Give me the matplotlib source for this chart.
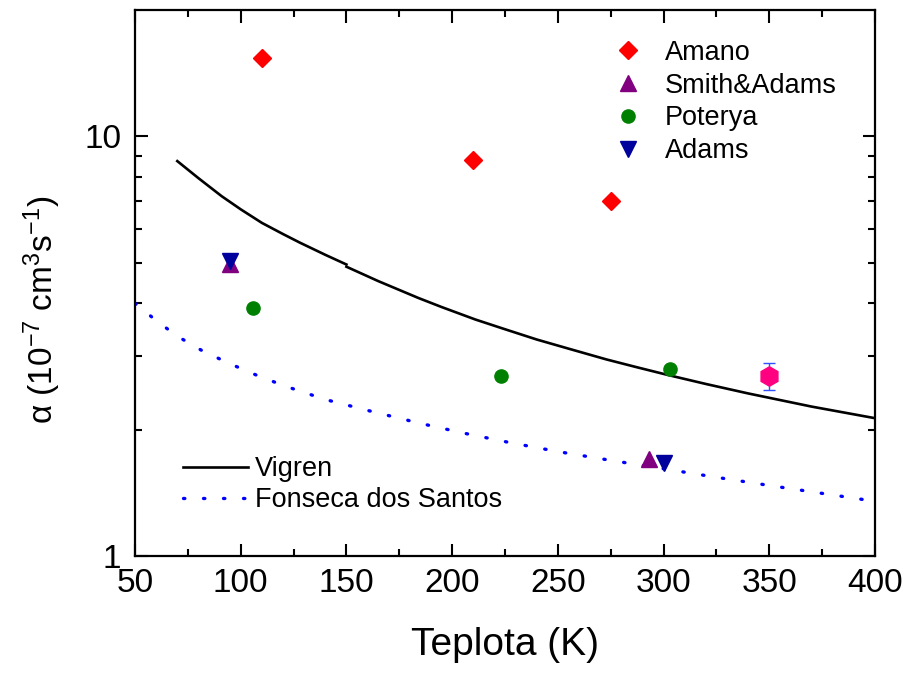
import numpy as np
import matplotlib
matplotlib.use('Agg')
import matplotlib.pyplot as plt
from matplotlib.ticker import MultipleLocator, FixedLocator, NullFormatter

plt.rcParams['font.family'] = ['Liberation Sans', 'DejaVu Sans']
plt.rcParams['mathtext.fontset'] = 'custom'
plt.rcParams['mathtext.rm'] = 'Liberation Sans'
plt.rcParams['mathtext.it'] = 'Liberation Sans:italic'

# experimentalni body
amano_T = [110, 210, 275]
amano_a = [15.4, 8.8, 7.0]
smith_T = [95, 293]
smith_a = [4.95, 1.70]
poterya_T = [106, 223, 303]
poterya_a = [3.89, 2.69, 2.79]
adams_T = [95, 300]
adams_a = [5.05, 1.67]
this_T = [350]
this_a = [2.69]
this_err = [0.2]

# teorie Vigren (dva useky)
vigren_T1 = [70, 80, 91, 100, 110, 120, 128, 140, 150]
vigren_a1 = [8.73, 7.95, 7.2, 6.7, 6.22, 5.85, 5.58, 5.22, 4.95]
vigren_T2 = [150, 165, 184, 195, 211, 225, 240, 255, 273, 287, 302, 320, 340, 370, 400]
vigren_a2 = [4.89, 4.52, 4.12, 3.92, 3.66, 3.47, 3.28, 3.12, 2.94, 2.82, 2.70, 2.57,
             2.44, 2.27, 2.13]

# teorie Fonseca dos Santos
fonseca_T = [50, 60, 70, 82, 95, 108, 121, 140, 162, 185, 206, 228, 251, 275, 298,
             325, 351, 375, 400]
fonseca_a = [4.0, 3.64, 3.34, 3.08, 2.87, 2.69, 2.54, 2.36, 2.21, 2.07, 1.96, 1.86,
             1.77, 1.69, 1.62, 1.54, 1.47, 1.41, 1.35]

fig = plt.figure(figsize=(9.1, 6.74), dpi=100)
ax = fig.add_axes([135/910, 1-556/674, 740/910, 546/674])

l1, = ax.plot(vigren_T1, vigren_a1, color='black', lw=1.9, label='Vigren')
ax.plot(vigren_T2, vigren_a2, color='black', lw=1.9)
l2, = ax.plot(fonseca_T, fonseca_a, color='#0000ff', lw=2.4, linestyle=(0, (0.4, 5.6)),
              dash_capstyle='round', label='Fonseca dos Santos')

m1, = ax.plot(amano_T, amano_a, 'D', color='#ff0000', ms=9.5, ls='none', label='Amano')
m2, = ax.plot(smith_T, smith_a, '^', color='#800080', ms=11.5, ls='none', label='Smith&Adams')
m3, = ax.plot(poterya_T, poterya_a, 'o', color='#008000', ms=9.5, ls='none', label='Poterya')
m4, = ax.plot(adams_T, adams_a, 'v', color='#00009c', ms=11.5, ls='none', label='Adams')
ax.errorbar(this_T, this_a, yerr=this_err, fmt='none', ecolor='#3050ff', elinewidth=1.0,
            capsize=4, capthick=1.0)
ax.plot(this_T, this_a, 'h', color='#ff0080', ms=14, ls='none')

ax.set_yscale('log')
ax.set_xlim(50, 400)
ax.set_ylim(1, 20)
ax.xaxis.set_major_locator(MultipleLocator(50))
ax.xaxis.set_minor_locator(MultipleLocator(25))
ax.yaxis.set_major_locator(FixedLocator([1, 10]))
ax.yaxis.set_minor_locator(FixedLocator([2, 3, 4, 5, 6, 7, 8, 9]))
ax.yaxis.set_minor_formatter(NullFormatter())
ax.set_yticklabels(['1', '10'])

ax.tick_params(which='both', direction='in', top=True, right=True, width=1.5,
               labelsize=24)
ax.tick_params(which='major', length=9)
ax.tick_params(which='minor', length=5)
ax.tick_params(axis='x', which='major', pad=9)
ax.tick_params(axis='y', which='major', pad=10)
for s in ax.spines.values():
    s.set_linewidth(1.6)

ax.set_xlabel('Teplota (K)', fontsize=28, labelpad=20)
ax.set_ylabel('\u03b1 (10$^{\\mathregular{-7}}$ cm$^{\\mathregular{3}}$s$^{\\mathregular{-1}}$)',
              fontsize=24, labelpad=14)
ax.yaxis.set_label_coords(-0.097, 0.45)

leg1 = ax.legend(handles=[m1, m2, m3, m4], loc='upper left', bbox_to_anchor=(0.615, 0.965),
                 frameon=False, fontsize=19.5, handlelength=2.0, handletextpad=0.35,
                 labelspacing=0.25, borderaxespad=0)
ax.add_artist(leg1)
ax.legend(handles=[l1, l2], loc='lower left', bbox_to_anchor=(0.05, 0.058),
          frameon=False, fontsize=19.5, handlelength=2.4, handletextpad=0.25,
          labelspacing=0.2, borderaxespad=0)

fig.savefig('out.png', dpi=100)
